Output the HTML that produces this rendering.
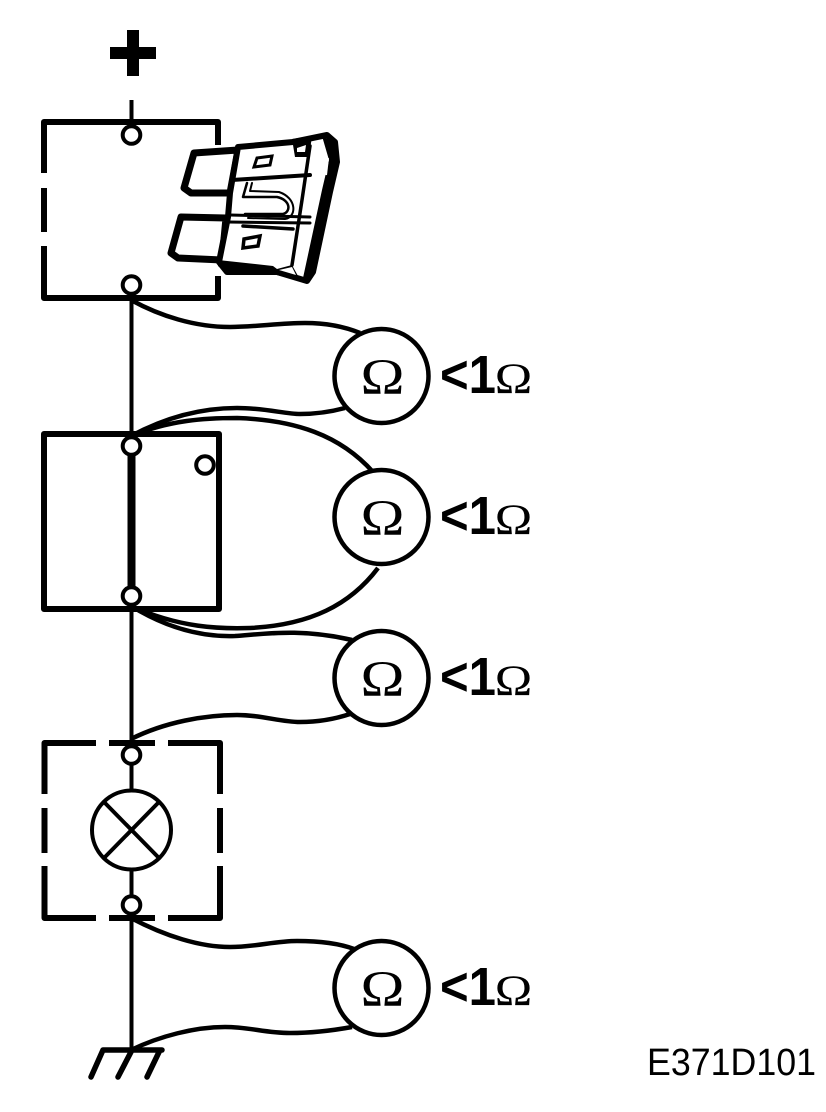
<!DOCTYPE html>
<html><head><meta charset="utf-8"><style>
html,body{margin:0;padding:0;background:#fff}
svg{display:block}
</style></head><body>
<svg width="826" height="1112" viewBox="0 0 826 1112" xmlns="http://www.w3.org/2000/svg">
<rect width="826" height="1112" fill="#fff"/>
<g fill="#000">
<rect x="127" y="30" width="12" height="46"/><rect x="110" y="47" width="46" height="12"/>
</g>
<g fill="none" stroke="#000" stroke-width="4">
<path d="M131.5 100V122"/><path d="M131.5 298V746"/><path d="M131.500 765V790M131.500 870V895M131.500 915V1050"/>
<!-- wires -->
<g stroke-width="4.500">
<path d="M131 300C160 316 195 327 230 327C255 327 280 323 305 323C325 323 343 326 360 333"/>
<path d="M131 436C170 415 205 408 237 408C265 408 285 414 300 414C315 414 330 412 345 408"/>
<path d="M131 436C170 420 205 418 237 418C295 420 340 435 373 472"/>
<path d="M131 606C180 628 220 629 250 628C310 625 350 605 378 568"/>
<path d="M131 606C170 630 205 637 235 636C265 634 300 628 352 640"/>
<path d="M131 739C165 722 205 715 237 715C262 715 280 722 300 722C320 722 335 719 350 714"/>
<path d="M131 918C165 936 200 947 230 947C255 947 275 941 297 941C318 941 338 943 354 949"/>
<path d="M131 1050C160 1036 195 1027 225 1027C250 1027 265 1033 290 1033C310 1033 330 1031 352 1027"/>
</g>
</g>
<!-- boxes -->
<g fill="none" stroke="#000" stroke-width="6">
<path d="M218 145V122H44V173M44 188V232M44 246V298H218V276" stroke-linejoin="round"/>
<rect x="44" y="434" width="175" height="175" stroke-linejoin="round"/>
<path d="M96 743H44.500V794M44.500 808V853M44.500 866V918H96M109 918H155M168 918H220V866M220 853V808M220 794V743H168M155 743H109" stroke-linejoin="round"/>
</g>
<rect x="127.500" y="446" width="8" height="150" fill="#000"/>
<!-- terminals -->
<g fill="#fff" stroke="#000" stroke-width="4">
<circle cx="131.500" cy="135" r="8.800"/><circle cx="131.500" cy="285" r="8.800"/>
<circle cx="131.500" cy="446" r="8.800"/><circle cx="131.500" cy="596" r="8.800"/><circle cx="205" cy="465" r="8.800"/>
<circle cx="131.500" cy="755" r="8.800"/><circle cx="131.500" cy="905" r="8.800"/>
<circle cx="131.500" cy="830" r="39.500"/>
</g>
<path d="M105 803L158 857M158 803L105 857" stroke="#000" stroke-width="4" fill="none"/>
<!-- ground -->
<path d="M103 1050H162M103 1050L91 1077M132 1050L118 1077M160 1050L147 1077" fill="none" stroke="#000" stroke-width="5.500" stroke-linecap="round"/>
<!-- ohmmeters -->
<g fill="#fff" stroke="#000" stroke-width="4.500">
<circle cx="381.500" cy="376" r="47"/><circle cx="381.500" cy="517" r="47"/><circle cx="381.500" cy="678" r="47"/><circle cx="381.500" cy="988" r="47"/>
</g>
<g font-family="'Liberation Serif',serif" font-size="51" fill="#000">
<text x="360.500" y="394" textLength="44" lengthAdjust="spacingAndGlyphs">Ω</text>
<text x="360.500" y="535" textLength="44" lengthAdjust="spacingAndGlyphs">Ω</text>
<text x="360.500" y="696" textLength="44" lengthAdjust="spacingAndGlyphs">Ω</text>
<text x="360.500" y="1006" textLength="44" lengthAdjust="spacingAndGlyphs">Ω</text>
</g>
<g font-family="'Liberation Sans',sans-serif" font-weight="700" font-size="54" fill="#000">
<text x="440" y="393" textLength="56" lengthAdjust="spacingAndGlyphs">&lt;1</text>
<text x="440" y="534" textLength="56" lengthAdjust="spacingAndGlyphs">&lt;1</text>
<text x="440" y="695" textLength="56" lengthAdjust="spacingAndGlyphs">&lt;1</text>
<text x="440" y="1005" textLength="56" lengthAdjust="spacingAndGlyphs">&lt;1</text>
</g>
<g font-family="'Liberation Serif',serif" font-size="43" fill="#000">
<text x="494.750" y="393" textLength="37.500" lengthAdjust="spacingAndGlyphs">Ω</text>
<text x="494.750" y="534" textLength="37.500" lengthAdjust="spacingAndGlyphs">Ω</text>
<text x="494.750" y="695" textLength="37.500" lengthAdjust="spacingAndGlyphs">Ω</text>
<text x="494.750" y="1005" textLength="37.500" lengthAdjust="spacingAndGlyphs">Ω</text>
</g>
<text x="647" y="1075" font-family="'Liberation Sans',sans-serif" font-size="38" fill="#000" textLength="169" lengthAdjust="spacingAndGlyphs">E371D101</text>
<!-- fuse -->
<g fill="#fff" stroke="#000" stroke-linejoin="round" stroke-linecap="round">
<path d="M238 150L194 153L184 188L191 193L230 193Z" stroke-width="7"/>
<path d="M226 218L181 217L171 253L178 258L222 260Z" stroke-width="7"/>
<path d="M238 147L293 142L327 135L335 142L337 162L330 192L313 272L307 281L277 272L227 272L219 262L228 217L230 193Z" stroke-width="6"/>
</g>
<!-- dark top-right shoulder and band -->
<path d="M292 139L312 136L309 157L295 157Z" fill="#000"/>
<path d="M297 148L306 145L305 152L297 152Z" fill="#fff"/>
<path d="M322 136L337 144L338 163L331 194L314 272L306 283L303 278L322 190L329 160Z" fill="#000"/>
<path d="M328 158L326 175" stroke="#fff" stroke-width="2"/>
<g fill="none" stroke="#000" stroke-linecap="round" stroke-linejoin="round">
<path d="M310 146L302 200L292 265" stroke-width="3.500"/>
<path d="M232 180L310 175" stroke-width="4"/>
<path d="M230 215L310 217M228 222L310 223" stroke-width="3"/>
<path d="M243 226L293 229" stroke-width="3.500"/>
<path d="M247 183L243 197L277 197C291 200 291 212 283 214L245 214" stroke-width="2.500"/>
<path d="M252 183L250 191L279 192C297 198 297 217 285 219L248 218" stroke-width="2"/>
</g>
<path d="M218 260L273 266L277 269L292 265L298 276L307 283L277 275L228 274L218 266Z" fill="#000"/>
<path d="M279 270L292 267L296 275Z" fill="#fff"/>
<path d="M257 158L272 156L270 165L254 167Z" fill="none" stroke="#000" stroke-width="3"/>
<path d="M244 239L260 236L258 246L243 248Z" fill="none" stroke="#000" stroke-width="3.500"/>
</svg>
</body></html>
